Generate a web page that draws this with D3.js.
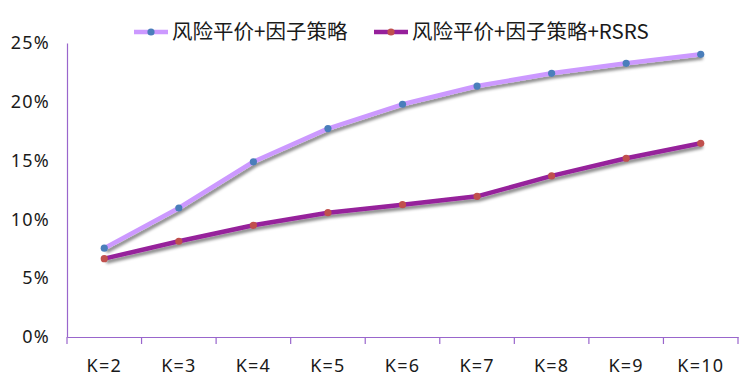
<!DOCTYPE html>
<html>
<head>
  <meta charset="UTF-8">
  <style>
    body { margin: 0; background: white; }
    .tick text { font-family: "Noto Sans", "Open Sans", sans-serif; font-size: 18px; letter-spacing: 1.2px; fill: #1a1a1a; }
    .legend text { font-family: "Noto Sans CJK SC", sans-serif; font-size: 20.5px; fill: #1a1a1a; }
  </style>
</head>
<body>
<svg></svg>
<script src="https://d3js.org/d3.v7.min.js"></script>
<script>

// data
let categories = ["K=2", "K=3", "K=4", "K=5", "K=6", "K=7", "K=8", "K=9", "K=10"];
let seriesNames = ["风险平价+因子策略", "风险平价+因子策略+RSRS"];
let factorValues = [7.55, 10.97, 14.9, 17.72, 19.79, 21.34, 22.42, 23.27, 24.04];
let rsrsValues = [6.66, 8.14, 9.5, 10.57, 11.25, 11.96, 13.7, 15.2, 16.47];
let yTicks = [0, 5, 10, 15, 20, 25];

let width = 744, height = 384;
let margin = {left: 67, right: 6, top: 43, bottom: 47};

let svg = d3.select("svg")
    .attr("width", width)
    .attr("height", height);

// shadow behind the lines
let filter = svg.append("defs").append("filter")
    .attr("id", "shadow")
    .attr("x", "-10%").attr("y", "-20%")
    .attr("width", "130%").attr("height", "150%");
filter.append("feDropShadow")
    .attr("dx", 2).attr("dy", 3)
    .attr("stdDeviation", 1.6)
    .attr("flood-color", "#000")
    .attr("flood-opacity", 0.45);

let x = d3.scaleBand()
    .domain(categories)
    .range([margin.left, width - margin.right]);

let y = d3.scaleLinear()
    .domain([0, 25])
    .range([height - margin.bottom, margin.top]);

let axisColor = "#9966cc";

// y axis
let yAxis = svg.append("g")
    .attr("transform", `translate(${margin.left},0)`)
    .call(d3.axisLeft(y).tickValues(yTicks).tickSize(0).tickPadding(17).tickFormat(d => d + "%"));
yAxis.select(".domain").attr("stroke", axisColor).attr("stroke-width", 1.2);

// x axis
let xAxis = svg.append("g")
    .attr("transform", `translate(0,${height - margin.bottom})`)
    .call(d3.axisBottom(x).tickSize(0).tickPadding(22));
xAxis.select(".domain").attr("stroke", axisColor).attr("stroke-width", 1.2);

// category boundary ticks
let bounds = categories.map(c => x(c)).concat([x.range()[1]]);
svg.append("g").selectAll("line")
    .data(bounds)
    .enter().append("line")
    .attr("x1", d => d).attr("x2", d => d)
    .attr("y1", height - margin.bottom)
    .attr("y2", height - margin.bottom + 7)
    .attr("stroke", axisColor)
    .attr("stroke-width", 1.2);

let series = [
  {name: seriesNames[0], values: factorValues, line: "#cc99ff", dot: "#4a7ebb"},
  {name: seriesNames[1], values: rsrsValues, line: "#96209b", dot: "#c0504d"}
];

let line = d3.line()
    .x((d, i) => x(categories[i]) + x.bandwidth() / 2)
    .y(d => y(d));

series.forEach(s => {
  svg.append("path")
      .datum(s.values)
      .attr("d", line)
      .attr("fill", "none")
      .attr("stroke", s.line)
      .attr("stroke-width", 4.5)
      .attr("stroke-linejoin", "round")
      .attr("filter", "url(#shadow)");
});

series.forEach(s => {
  svg.append("g").selectAll("circle")
      .data(s.values)
      .enter().append("circle")
      .attr("cx", (d, i) => x(categories[i]) + x.bandwidth() / 2)
      .attr("cy", d => y(d))
      .attr("r", 3.6)
      .attr("fill", s.dot);
});

// legend
let legendPos = [134, 374];
let legend = svg.append("g").attr("class", "legend");
series.forEach((s, i) => {
  let g = legend.append("g").attr("transform", `translate(${legendPos[i]},32)`);
  g.append("line")
      .attr("x1", 0).attr("x2", 34)
      .attr("stroke", s.line)
      .attr("stroke-width", 4.5);
  g.append("circle")
      .attr("cx", 17)
      .attr("r", 3.6)
      .attr("fill", s.dot);
  g.append("text")
      .attr("x", 38)
      .attr("dy", "0.35em")
      .text(s.name);
});

</script>
</body>
</html>
